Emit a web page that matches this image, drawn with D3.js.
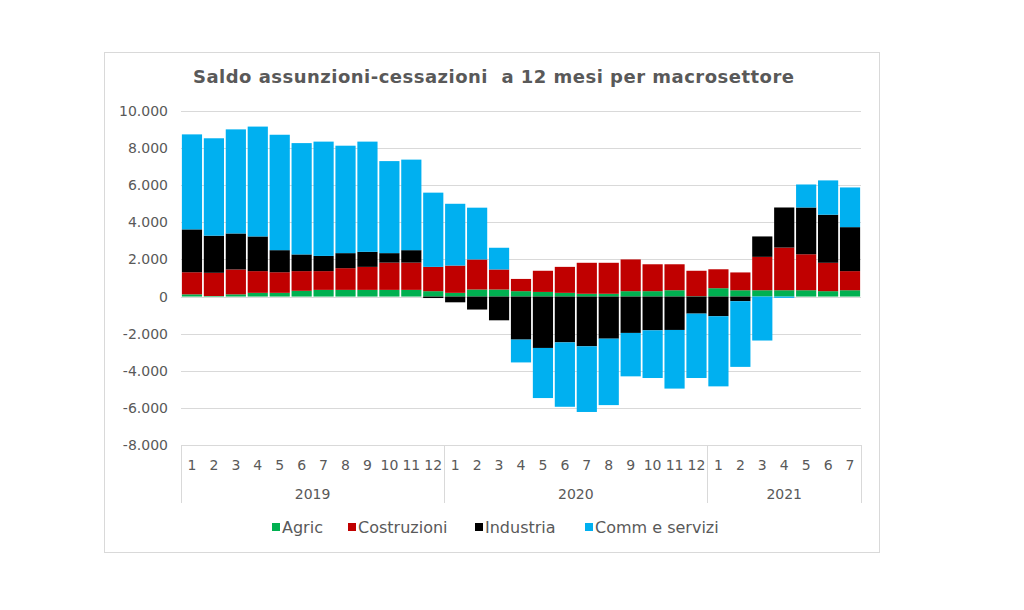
<!DOCTYPE html>
<html><head><meta charset="utf-8">
<script src="https://cdn.jsdelivr.net/npm/d3@7"></script>
<style>body{margin:0;background:#fff}svg{display:block}text{font-family:"DejaVu Sans",Verdana,sans-serif;fill:#595959}</style>
</head><body><svg id="c" width="1024" height="610"></svg>
<script>
const months = ["1","2","3","4","5","6","7","8","9","10","11","12","1","2","3","4","5","6","7","8","9","10","11","12","1","2","3","4","5","6","7"];
const years = [{label:"2019",n:12},{label:"2020",n:12},{label:"2021",n:7}];
const seriesNames = ["Agric","Costruzioni","Industria","Comm e servizi"];
const colors = ["#00b050","#c00000","#000000","#00b0f0"];
const agric = [120,30,120,200,200,310,360,360,360,360,360,290,200,380,380,290,250,200,150,150,290,290,340,20,450,340,340,340,340,290,340];
const costruzioni = [1190,1250,1340,1170,1110,1060,1010,1170,1240,1470,1470,1310,1470,1620,1080,660,1140,1400,1670,1670,1710,1450,1400,1370,1020,960,1800,2300,1940,1530,1030];
const industria = [2310,2000,1940,1870,1190,900,820,810,810,510,670,-80,-310,-700,-1280,-2320,-2770,-2470,-2680,-2270,-1960,-1820,-1800,-920,-1060,-250,1100,2160,2520,2590,2370];
const servizi = [5120,5250,5610,5920,6220,6000,6160,5790,5940,4960,4880,4000,3330,2790,1170,-1230,-2700,-3470,-3540,-3580,-2340,-2570,-3160,-3470,-3780,-3540,-2370,-70,1240,1850,2140];
const yTicks = [-8000,-6000,-4000,-2000,0,2000,4000,6000,8000,10000];
const title = "Saldo assunzioni-cessazioni  a 12 mesi per macrosettore";

const svg = d3.select("#c");
const L=181, R=861, T=111, B=445;
svg.append("rect").attr("x",104.5).attr("y",52.5).attr("width",775).attr("height",500)
  .attr("fill","#fff").attr("stroke","#d9d9d9");
svg.append("text").attr("x",193).attr("y",83).attr("xml:space","preserve").style("white-space","pre")
  .attr("textLength",601).attr("lengthAdjust","spacing")
  .style("font-size","18px").style("font-weight","bold").text(title);

const idx = d3.range(months.length);
const x = d3.scaleBand().domain(idx).range([L,R]).paddingInner(0.08).paddingOuter(0.04);
const y = d3.scaleLinear().domain([-8000,10000]).range([B,T]);

svg.append("g").selectAll("line").data(yTicks).join("line")
  .attr("x1",L).attr("x2",R).attr("y1",d=>Math.round(y(d))+0.5).attr("y2",d=>Math.round(y(d))+0.5)
  .attr("stroke","#d9d9d9").attr("stroke-width",1);
const fmt = d3.formatLocale({decimal:",",thousands:".",grouping:[3],currency:["",""],minus:"-"}).format(",");
svg.append("g").selectAll("text").data(yTicks).join("text")
  .attr("x",168).attr("y",d=>y(d)+5).attr("text-anchor","end").style("font-size","14px")
  .text(d=>fmt(d));

const rows = idx.map(i=>({i, "Agric":agric[i], "Costruzioni":costruzioni[i], "Industria":industria[i], "Comm e servizi":servizi[i]}));
const stack = d3.stack().keys(seriesNames).offset(d3.stackOffsetDiverging)(rows);
svg.append("g").selectAll("g").data(stack).join("g").attr("fill",(d,k)=>colors[k])
  .selectAll("rect").data(d=>d).join("rect")
  .attr("x",d=>x(d.data.i)).attr("width",x.bandwidth())
  .attr("y",d=>y(Math.max(d[0],d[1]))).attr("height",d=>Math.abs(y(d[0])-y(d[1])));

svg.append("g").selectAll("text").data(idx).join("text")
  .attr("x",i=>x(i)+x.bandwidth()/2).attr("y",470).attr("text-anchor","middle")
  .style("font-size","14px").text(i=>months[i]);
const step = (R-L)/months.length;
let start=0; const bounds=[0];
years.forEach(yy=>{start+=yy.n;bounds.push(start);});
svg.append("g").selectAll("line").data(bounds).join("line")
  .attr("x1",b=>Math.round(L+b*step)+0.5).attr("x2",b=>Math.round(L+b*step)+0.5)
  .attr("y1",B).attr("y2",503).attr("stroke","#d9d9d9");
svg.append("g").selectAll("text").data(years).join("text")
  .attr("x",(d,k)=>L+(bounds[k]+bounds[k+1])/2*step).attr("y",499).attr("text-anchor","middle")
  .style("font-size","14px").text(d=>d.label);

const legX=[272,348,475,585];
const lg = svg.append("g").selectAll("g").data(seriesNames).join("g")
  .attr("transform",(d,k)=>`translate(${legX[k]},527)`);
lg.append("rect").attr("x",0).attr("y",-4).attr("width",8).attr("height",8).attr("fill",(d,k)=>colors[k]);
lg.append("text").attr("x",10).attr("y",6).style("font-size","16px").text(d=>d);
</script></body></html>
